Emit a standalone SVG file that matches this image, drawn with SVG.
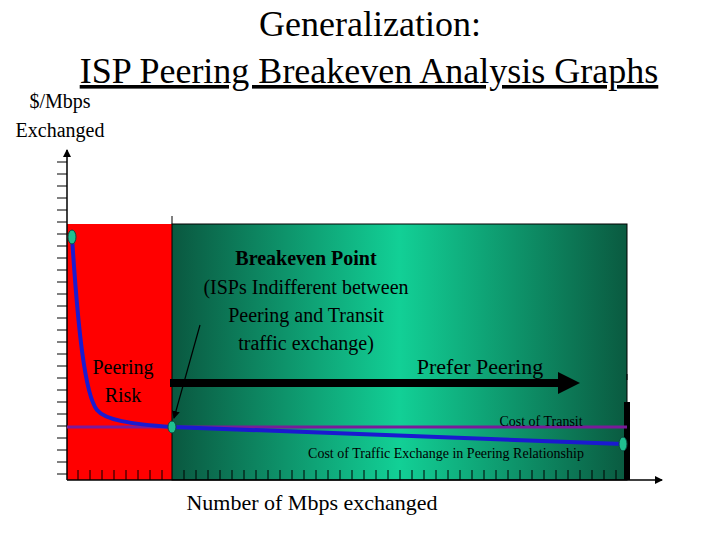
<svg xmlns="http://www.w3.org/2000/svg" width="720" height="540" viewBox="0 0 720 540">
<style>
text{font-family:"Liberation Serif",serif;fill:#000}
.tk{stroke:#000;stroke-width:1}
</style>
<defs>
<linearGradient id="g" x1="0" x2="1" y1="0" y2="0">
<stop offset="0" stop-color="#0a5840"/>
<stop offset="0.5" stop-color="#12d096"/>
<stop offset="1" stop-color="#0a5a40"/>
</linearGradient>
<marker id="ah" markerWidth="8" markerHeight="8" refX="7" refY="4" orient="auto" markerUnits="userSpaceOnUse"><path d="M0,0L8,4L0,8z" fill="#000"/></marker>
</defs>
<g id="title">
<text x="370" y="36" font-size="36" text-anchor="middle">Generalization:</text>
<text x="369" y="83" font-size="36" text-anchor="middle" text-decoration="underline">ISP Peering Breakeven Analysis Graphs</text>
</g>
<g id="ylabel"><text x="60" y="108" font-size="20" text-anchor="middle">$/Mbps</text><text x="60" y="137" font-size="20" text-anchor="middle">Exchanged</text></g>
<g id="risk"><rect x="67" y="224" width="105" height="256" fill="#ff0000"/>
<text x="123" y="374" font-size="20" text-anchor="middle" fill="#5a0000">Peering</text><text x="123" y="402" font-size="20" text-anchor="middle" fill="#5a0000">Risk</text></g>
<g id="prefer"><rect x="172" y="224" width="455" height="256" fill="url(#g)" stroke="#000" stroke-width="1"/>
<rect x="624" y="402" width="6" height="78" fill="#000"/>
<text x="480" y="374" font-size="22" text-anchor="middle">Prefer Peering</text></g>
<g id="ticks" class="tk">
<path d="M67,162h-10M67,174h-10M67,186h-10M67,198h-10M67,210h-10M67,222h-10M67,234h-10M67,246h-10M67,258h-10M67,270h-10M67,282h-10M67,294h-10M67,306h-10M67,318h-10M67,330h-10M67,342h-10M67,354h-10M67,366h-10M67,378h-10M67,390h-10M67,402h-10M67,414h-10M67,426h-10M67,438h-10M67,450h-10M67,462h-10M67,474h-10"/>
<path d="M78,480v-10M90,480v-10M102,480v-10M114,480v-10M126,480v-10M138,480v-10M150,480v-10M162,480v-10M184,480v-10M196,480v-10M208,480v-10M220,480v-10M232,480v-10M244,480v-10M256,480v-10M268,480v-10M280,480v-10M292,480v-10M304,480v-10M316,480v-10M328,480v-10M340,480v-10M352,480v-10M364,480v-10M376,480v-10M388,480v-10M400,480v-10M412,480v-10M424,480v-10M436,480v-10M448,480v-10M460,480v-10M472,480v-10M484,480v-10M496,480v-10M508,480v-10M520,480v-10M532,480v-10M544,480v-10M556,480v-10M568,480v-10M580,480v-10M592,480v-10M604,480v-10M616,480v-10"/>
<path d="M172,216v8M627,374v6"/>
</g>
<g id="connectors">
<line x1="67" y1="480" x2="67" y2="150" stroke="#000" stroke-width="1.5" marker-end="url(#ah)"/>
<line x1="67" y1="480" x2="662" y2="480" stroke="#000" stroke-width="1.5" marker-end="url(#ah)"/>
<line x1="67" y1="427" x2="627" y2="427" stroke="#7a1a9a" stroke-width="3"/>
<path d="M72,237C78,330 85,395 97,410C105,420 130,424 172,427L623,444" fill="none" stroke="#1a1ad0" stroke-width="4"/>
<line x1="170" y1="383" x2="560" y2="383" stroke="#000" stroke-width="8"/>
<path d="M558,372L580,383L558,394z" fill="#000"/>
<line x1="200" y1="325" x2="174" y2="418" stroke="#000" stroke-width="1.2" marker-end="url(#ah)"/>
</g>
<g id="points" fill="#20c090" stroke="#0a4a40" stroke-width="1">
<ellipse cx="72" cy="237" rx="4" ry="7"/><ellipse cx="172" cy="427" rx="4" ry="6"/><ellipse cx="623" cy="444" rx="4" ry="7"/>
</g>
<g id="breakeven">
<text x="306" y="265" font-size="20" font-weight="bold" text-anchor="middle">Breakeven Point</text>
<text x="306" y="294" font-size="20" text-anchor="middle">(ISPs Indifferent between</text>
<text x="306" y="322" font-size="20" text-anchor="middle">Peering and Transit</text>
<text x="306" y="350" font-size="20" text-anchor="middle">traffic exchange)</text>
</g>
<g id="labels">
<text x="541" y="426" font-size="14" text-anchor="middle">Cost of Transit</text>
<text x="446" y="458" font-size="14" text-anchor="middle">Cost of Traffic Exchange in Peering Relationship</text>
<text x="312" y="510" font-size="22" text-anchor="middle">Number of Mbps exchanged</text>
</g>
</svg>
